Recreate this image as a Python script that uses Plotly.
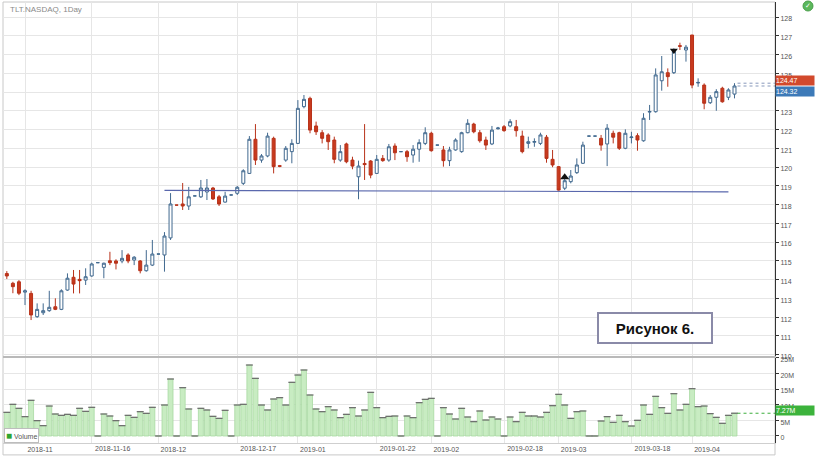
import plotly.graph_objects as go

# ---------------- data ----------------
days = list(range(121))  # trading-day slots of the chart

opens = [114.32, 113.80, 113.88, 113.33, 113.26, 112.02, 112.23, 112.34, 112.55, 112.41,
         113.44, 114.12, 114.01, 113.97, 114.19, 114.90, 114.65, 115.00, 114.99, 114.99,
         115.31, 115.04, 114.99, 114.47, 114.77, 115.36, 115.31, 116.22, 117.97, 118.03,
         117.92, 118.46, 118.41, 118.67, 118.88, 118.41, 118.13, 118.51, 118.60, 119.13,
         119.66, 121.48, 120.37, 120.59, 121.53, 120.07, 120.37, 120.82, 121.26, 123.22,
         123.66, 122.19, 121.83, 121.71, 121.44, 120.37, 121.23, 120.37, 119.48, 120.19,
         120.32, 119.66, 120.46, 120.37, 121.12, 120.82, 120.82, 120.64, 120.95, 121.26,
         121.80, 121.17, 120.91, 120.34, 120.91, 120.82, 121.83, 122.29, 121.83, 121.44,
         121.23, 122.04, 122.15, 122.19, 122.15, 121.65, 121.26, 121.32, 121.26, 121.59,
         120.41, 120.02, 118.87, 119.22, 119.70, 120.20, 121.65, 121.65, 121.53, 121.23,
         121.80, 121.83, 121.00, 121.57, 121.67, 121.40, 122.93, 122.95, 124.60, 125.03,
         125.03, 126.47, 126.24, 127.04, 124.48, 124.37, 123.43, 123.72, 124.20, 123.72,
         123.89]
highs = [114.45, 113.88, 113.97, 113.48, 113.40, 112.73, 112.73, 113.40, 113.00, 113.48,
         114.33, 114.51, 114.51, 114.60, 114.90, 114.90, 114.90, 115.48, 115.08, 115.57,
         115.40, 115.25, 115.04, 115.57, 116.11, 115.36, 116.53, 118.61, 117.97, 119.15,
         118.94, 118.46, 119.31, 119.36, 118.94, 118.51, 118.68, 118.51, 118.99, 119.88,
         121.65, 122.29, 120.69, 121.83, 121.62, 120.11, 121.12, 121.48, 123.57, 123.84,
         123.75, 122.42, 121.97, 121.80, 121.62, 121.17, 121.30, 120.55, 120.34, 122.29,
         120.37, 120.64, 120.64, 121.23, 121.26, 120.82, 120.91, 121.17, 121.48, 122.12,
         121.88, 121.17, 121.12, 121.08, 121.53, 121.88, 122.55, 122.36, 121.97, 121.62,
         122.19, 122.14, 122.24, 122.55, 122.51, 121.94, 121.62, 121.53, 121.83, 121.71,
         120.91, 120.05, 119.52, 119.84, 120.46, 121.35, 121.65, 121.65, 121.71, 122.29,
         121.94, 121.88, 122.01, 121.88, 121.80, 122.87, 123.31, 125.26, 125.92, 125.26,
         126.33, 126.63, 126.51, 127.04, 124.73, 124.46, 123.84, 124.15, 124.28, 124.20,
         124.47]
lows = [114.03, 113.27, 113.17, 112.64, 111.84, 111.96, 112.11, 112.28, 112.37, 112.37,
        113.40, 113.26, 113.26, 113.71, 114.15, 114.90, 114.07, 114.77, 114.54, 114.87,
        114.87, 114.77, 114.33, 114.42, 114.72, 115.36, 114.42, 116.11, 117.97, 117.71,
        117.71, 118.46, 118.35, 118.24, 118.24, 117.92, 118.10, 118.51, 118.51, 119.04,
        119.63, 120.11, 120.23, 120.52, 119.66, 119.99, 120.28, 120.20, 121.23, 123.13,
        121.80, 121.71, 121.26, 120.91, 120.20, 120.28, 120.20, 119.88, 118.28, 119.31,
        119.40, 119.63, 120.28, 120.28, 120.37, 120.82, 120.28, 120.23, 120.28, 121.17,
        120.82, 121.17, 120.02, 120.05, 120.87, 120.76, 121.80, 121.80, 121.30, 120.91,
        121.17, 122.00, 121.88, 122.12, 121.62, 120.73, 121.00, 121.08, 121.17, 120.23,
        119.99, 118.74, 118.77, 119.13, 119.63, 120.16, 121.65, 121.65, 120.87, 120.05,
        121.26, 120.91, 120.95, 121.26, 120.87, 121.35, 122.51, 122.90, 124.07, 124.28,
        124.96, 126.24, 125.62, 124.20, 124.28, 123.08, 123.36, 123.00, 123.43, 123.57,
        123.66]
closes = [114.19, 113.62, 113.27, 113.40, 112.11, 112.41, 112.34, 112.52, 112.41, 113.40,
          114.07, 113.76, 113.94, 114.15, 114.83, 114.90, 114.87, 114.90, 114.87, 115.13,
          114.99, 115.19, 114.47, 114.77, 115.36, 115.36, 116.32, 118.03, 117.97, 117.92,
          118.41, 118.46, 118.88, 118.88, 118.30, 118.03, 118.45, 118.51, 118.92, 119.80,
          121.48, 120.37, 120.59, 121.65, 120.02, 120.04, 121.00, 121.26, 123.13, 123.61,
          121.97, 121.88, 121.53, 121.35, 120.41, 120.82, 120.28, 120.05, 120.05, 120.13,
          119.57, 120.41, 120.34, 121.08, 120.76, 120.82, 120.55, 120.95, 121.30, 121.83,
          120.87, 121.17, 120.34, 120.91, 121.44, 121.83, 122.33, 121.88, 121.40, 121.17,
          121.97, 122.08, 121.94, 122.42, 121.94, 120.82, 121.35, 121.36, 121.71, 120.46,
          120.11, 118.77, 119.27, 119.52, 120.11, 121.17, 121.65, 121.65, 121.17, 122.07,
          121.59, 121.00, 121.80, 121.60, 121.44, 122.60, 122.96, 124.91, 125.08, 124.82,
          126.15, 126.44, 126.39, 124.37, 124.51, 123.40, 123.72, 124.02, 123.48, 124.11,
          124.32]
volumes = [7.56, 10.12, 8.84, 6.18, 11.40, 4.90, 3.30, 9.58, 7.03, 6.60,
           6.92, 6.60, 8.84, 7.88, 9.16, 0, 7.03, 6.39, 4.90, 3.30,
           6.60, 5.96, 7.77, 7.24, 9.16, 0, 9.90, 18.21, 0, 15.44,
           8.63, 0, 8.84, 8.31, 6.28, 5.64, 8.20, 0, 9.90, 10.12,
           22.68, 18.42, 9.90, 8.31, 11.82, 12.25, 9.90, 17.15, 19.49, 21.09,
           13.10, 8.63, 7.77, 9.37, 8.31, 5.86, 6.92, 9.05, 6.39, 8.31,
           13.95, 9.05, 5.86, 6.28, 6.39, 0, 6.39, 5.86, 10.65, 11.71,
           12.03, 0, 9.05, 7.03, 5.43, 8.84, 6.07, 4.58, 7.99, 5.11,
           6.07, 5.43, 0, 6.07, 4.58, 7.56, 6.39, 6.39, 6.07, 7.56,
           9.69, 13.31, 9.90, 5.64, 7.77, 7.99, 0, 0, 4.79, 6.18,
           4.37, 6.60, 4.58, 3.19, 5.01, 9.90, 6.92, 12.67, 9.05, 7.24,
           13.52, 8.31, 10.12, 15.12, 9.37, 9.58, 7.14, 5.96, 4.05, 6.60,
           7.27]

month_pos = [3, 25, 48, 70, 91, 113]
month_txt = ["2018-11", "2018-12", "2019-01", "2019-02", "2019-03", "2019-04"]
mid_pos = [14, 38, 61, 82, 103]
mid_txt = ["2018-11-16", "2018-12-17", "2019-01-22", "2019-02-18", "2019-03-18"]

price_ticks = list(range(110, 129))
vol_ticks = [0, 5, 10, 15, 20, 25]
vol_ticktext = ["0", "5M", "10M", "15M", "20M", "25M"]

support_x = [26, 119]
support_y = [118.75, 118.68]

buy_x, buy_y = [92], [119.45]
sell_x, sell_y = [110], [126.22]

last_ask, last_bid = 124.47, 124.32
last_volume = 7.27

# ---------------- styling ----------------
UP_LINE = "#41698f"
DN_LINE = "#b8321a"
DN_FILL = "#c83a1e"
GRID = "#e6e6e6"
FONT = "Liberation Sans"
X_RANGE = [-0.63, 126.68]

fig = go.Figure()

fig.add_trace(go.Candlestick(
    x=days, open=opens, high=highs, low=lows, close=closes,
    xaxis="x2", yaxis="y",
    increasing=dict(line=dict(color=UP_LINE, width=1), fillcolor="white"),
    decreasing=dict(line=dict(color=DN_LINE, width=1), fillcolor=DN_FILL),
    whiskerwidth=0, showlegend=False, hoverinfo="skip"))

fig.add_trace(go.Scatter(
    x=support_x, y=support_y, mode="lines", xaxis="x2", yaxis="y",
    line=dict(color="#5a68ad", width=1.2), hoverinfo="skip", showlegend=False))

fig.add_trace(go.Scatter(
    x=buy_x, y=buy_y, mode="markers", xaxis="x2", yaxis="y",
    marker=dict(symbol="triangle-up", size=8, color="#111"), hoverinfo="skip", showlegend=False))
fig.add_trace(go.Scatter(
    x=sell_x, y=sell_y, mode="markers", xaxis="x2", yaxis="y",
    marker=dict(symbol="triangle-down", size=7, color="#111"), hoverinfo="skip", showlegend=False))

# dotted last-price lines
fig.add_trace(go.Scatter(
    x=[days[-1] + 0.5, X_RANGE[1]], y=[last_ask, last_ask], mode="lines", xaxis="x2", yaxis="y",
    line=dict(color="#8899bb", width=1, dash="dot"), hoverinfo="skip", showlegend=False))
fig.add_trace(go.Scatter(
    x=[days[-1] + 0.5, X_RANGE[1]], y=[last_bid, last_bid], mode="lines", xaxis="x2", yaxis="y",
    line=dict(color="#8899bb", width=1, dash="dot"), hoverinfo="skip", showlegend=False))

# volume
fig.add_trace(go.Bar(
    x=days, y=volumes, xaxis="x", yaxis="y2",
    marker=dict(color="#c8ecc2", line=dict(color="#a8d9a2", width=0.8)),
    hoverinfo="skip", showlegend=False))
fig.add_trace(go.Scatter(
    x=days, y=volumes, mode="markers", xaxis="x", yaxis="y2",
    marker=dict(symbol="line-ew", size=5, line=dict(color="#6a6a6a", width=1.2)),
    hoverinfo="skip", showlegend=False))
fig.add_trace(go.Scatter(
    x=[days[-1] + 0.5, X_RANGE[1]], y=[last_volume, last_volume], mode="lines", xaxis="x", yaxis="y2",
    line=dict(color="#3cae3c", width=1, dash="dot"), hoverinfo="skip", showlegend=False))
# anchor trace for the overlay axis carrying the mid-month labels
fig.add_trace(go.Scatter(
    x=[days[0]], y=[0], mode="markers", xaxis="x3", yaxis="y2",
    marker=dict(opacity=0), hoverinfo="skip", showlegend=False))

tickfont = dict(family=FONT, size=7, color="#555")

fig.update_layout(
    width=816, height=457,
    margin=dict(l=3, r=41, t=2, b=14),
    paper_bgcolor="white", plot_bgcolor="white",
    showlegend=False, bargap=0.18, hovermode=False,
    xaxis=dict(domain=[0, 1], anchor="y2", range=X_RANGE,
               tickmode="array", tickvals=month_pos, ticktext=month_txt,
               showgrid=True, gridcolor=GRID, gridwidth=1, zeroline=False,
               ticks="", tickfont=tickfont, ticklabelshift=15,
               showline=True, linecolor="#cfcfcf", linewidth=1),
    xaxis3=dict(overlaying="x", anchor="y2", matches="x",
                tickmode="array", tickvals=mid_pos, ticktext=mid_txt,
                showgrid=True, gridcolor=GRID, gridwidth=1, zeroline=False,
                ticks="", tickfont=tickfont, ticklabelshift=21, showline=False),
    xaxis2=dict(anchor="y", matches="x", domain=[0, 1],
                tickmode="array", tickvals=month_pos + mid_pos,
                showticklabels=False, showgrid=True, gridcolor=GRID, zeroline=False,
                showline=True, linecolor="#b9b9b9", linewidth=2,
                rangeslider=dict(visible=False)),
    yaxis=dict(domain=[0.198, 1], anchor="x2", side="right", range=[109.94, 128.8],
               tickmode="array", tickvals=price_ticks,
               showgrid=True, gridcolor=GRID, zeroline=False,
               ticks="outside", ticklen=3, tickcolor="#333", tickfont=tickfont,
               ticklabelshift=2,
               showline=True, linecolor="#333", linewidth=1),
    yaxis2=dict(domain=[0, 0.195], anchor="x", side="right", range=[-2.24, 25.24],
                tickmode="array", tickvals=vol_ticks, ticktext=vol_ticktext,
                showgrid=True, gridcolor=GRID, zeroline=False,
                ticks="outside", ticklen=3, tickcolor="#333", tickfont=tickfont,
                ticklabelshift=2,
                showline=True, linecolor="#333", linewidth=1),
)

ann = []
ann.append(dict(text="TLT.NASDAQ, 1Day", xref="paper", yref="paper", x=0.006, y=0.984,
                xanchor="left", yanchor="middle", showarrow=False,
                font=dict(family=FONT, size=8, color="#8a8a8a")))
ann.append(dict(text="<b>Рисунок 6.</b>", xref="paper", yref="paper", x=0.8446, y=0.2608,
                xanchor="center", yanchor="middle", showarrow=False,
                font=dict(family=FONT, size=15, color="#111"),
                bgcolor="white", bordercolor="#8a8aa8", borderwidth=2, borderpad=1,
                width=110, height=26))
ann.append(dict(text='<span style="color:#2fa52f;font-size:10px">■</span> Volume',
                xref="paper", yref="paper", x=0.001, y=0.0, xanchor="left", yanchor="bottom",
                showarrow=False, font=dict(family=FONT, size=7, color="#555"),
                bgcolor="white", bordercolor="#bdbdbd", borderwidth=1, borderpad=1))
ann.append(dict(text=f"{last_ask:.2f}", xref="paper", yref="y", x=1.0, y=last_ask, yshift=3,
                xanchor="left", yanchor="middle", showarrow=False,
                font=dict(family=FONT, size=7, color="white"),
                bgcolor="#d2492c", width=38, height=9, borderpad=0, align="left"))
ann.append(dict(text=f"{last_bid:.2f}", xref="paper", yref="y", x=1.0, y=last_bid, yshift=-5,
                xanchor="left", yanchor="middle", showarrow=False,
                font=dict(family=FONT, size=7, color="white"),
                bgcolor="#3d7ab8", width=38, height=9, borderpad=0, align="left"))
ann.append(dict(text=f"{last_volume:.2f}M", xref="paper", yref="y2", x=1.0, y=last_volume, yshift=3,
                xanchor="left", yanchor="middle", showarrow=False,
                font=dict(family=FONT, size=7, color="white"),
                bgcolor="#3cb33c", width=38, height=9, borderpad=0, align="left"))
ann.append(dict(text="✓", xref="paper", yref="paper", x=1.0427, y=0.991,
                xanchor="center", yanchor="middle", showarrow=False,
                font=dict(family="DejaVu Sans", size=7, color="white")))
fig.update_layout(annotations=ann)

fig.update_layout(shapes=[
    dict(type="rect", xref="paper", yref="paper", x0=0, x1=1, y0=-0.027, y1=1.0,
         line=dict(color="#c8c8c8", width=1), fillcolor="rgba(0,0,0,0)", layer="below"),
    dict(type="circle", xref="paper", yref="paper", x0=1.0363, x1=1.0492, y0=0.9796, y1=1.0023,
         fillcolor="#5cb85c", line=dict(color="#4a9e4a", width=1), layer="below"),
])

# the page's default 8px body margin would shift the figure; remove it
fig.write_html("out.html", config={"displayModeBar": False},
               post_script="document.body.style.margin='0px';")
